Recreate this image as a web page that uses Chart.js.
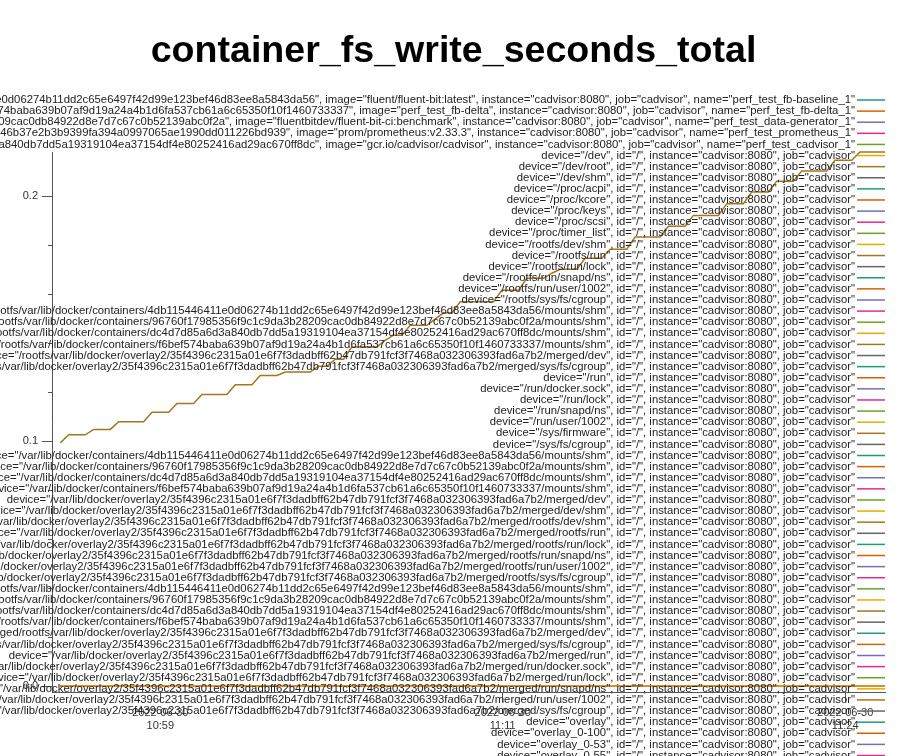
<!DOCTYPE html>
<html><head><meta charset="utf-8">
<script src="https://cdn.jsdelivr.net/npm/chart.js@4.4.1/dist/chart.umd.min.js"></script>
<style>html,body{margin:0;padding:0;background:#fff;overflow:hidden}canvas{display:block}</style>
</head><body>
<canvas id="c" width="907" height="756"></canvas>
<script>
const chartTitle = 'container_fs_write_seconds_total';
const dateLabel = '2022-06-30';

// sample timestamps (HH:MM:SS on 2022-06-30)
const times = [
 '10:55:24','10:55:42','10:56:00','10:56:18','10:56:36','10:56:54','10:57:12','10:57:30','10:57:48','10:58:06',
 '10:58:24','10:58:42','10:59:00','10:59:18','10:59:36','10:59:54','11:00:12','11:00:30','11:00:48','11:01:06',
 '11:01:24','11:01:42','11:02:00','11:02:18','11:02:36','11:02:54','11:03:12','11:03:30','11:03:48','11:04:06',
 '11:04:24','11:04:42','11:05:00','11:05:18','11:05:36','11:05:54','11:06:12','11:06:30','11:06:48','11:07:06',
 '11:07:24','11:07:42','11:08:00','11:08:18','11:08:36','11:08:54','11:09:12','11:09:30','11:09:48','11:10:06',
 '11:10:24','11:10:42','11:11:00','11:11:18','11:11:36','11:11:54','11:12:12','11:12:30','11:12:48','11:13:06',
 '11:13:24','11:13:42','11:14:00','11:14:18','11:14:36','11:14:54','11:15:12','11:15:30','11:15:48','11:16:06',
 '11:16:24','11:16:42','11:17:00','11:17:18','11:17:36','11:17:54','11:18:12','11:18:30','11:18:48','11:19:06',
 '11:19:24','11:19:42','11:20:00','11:20:18','11:20:36','11:20:54','11:21:12','11:21:30','11:21:48','11:22:06',
 '11:22:24','11:22:42','11:23:00','11:23:18','11:23:36','11:23:54','11:24:12','11:24:30','11:24:48','11:25:06'
];
const xRange = ['10:55:06', '11:25:06'];
const xTickTimes = ['10:59:00', '11:11:20', '11:23:40'];
const xTickLabels = ['10:59', '11:11', '11:24'];

const yRange = [-0.00245, 0.2181];
const yTickValues = [0, 0.02, 0.04, 0.06, 0.08, 0.1, 0.12, 0.14, 0.16, 0.18, 0.2];
const yLabeledTicks = [0, 0.1, 0.2];

// device="/dev/root"
const devRootValues = [
 0.0993,0.1026,0.1026,0.1026,0.1048,0.1048,0.1048,0.1079,0.1079,0.1079,
 0.1079,0.1118,0.1118,0.1118,0.1154,0.1154,0.1154,0.1191,0.1191,0.1191,
 0.1191,0.1230,0.1230,0.1230,0.1268,0.1268,0.1268,0.1282,0.1282,0.1282,
 0.1282,0.1306,0.1306,0.1335,0.1335,0.1385,0.1385,0.1385,0.1385,0.1412,
 0.1433,0.1433,0.1473,0.1473,0.1473,0.1498,0.1524,0.1524,0.1569,0.1569,
 0.1569,0.1569,0.1569,0.1616,0.1616,0.1616,0.1665,0.1665,0.1665,0.1686,
 0.1702,0.1702,0.1702,0.1747,0.1747,0.1747,0.1784,0.1784,0.1784,0.1834,
 0.1834,0.1834,0.1834,0.1878,0.1878,0.1878,0.1922,0.1922,0.1922,0.1922,
 0.1970,0.1970,0.1970,0.2018,0.2018,0.2018,0.2062,0.2062,0.2062,0.2103,
 0.2103,0.2103,0.2103,0.2147,0.2147,0.2147,0.2181,0.2181,0.2181,0.2181
];
// every other series stays at zero
const zeroValues = [
 0,0,0,0,0,0,0,0,0,0, 0,0,0,0,0,0,0,0,0,0, 0,0,0,0,0,0,0,0,0,0, 0,0,0,0,0,0,0,0,0,0,
 0,0,0,0,0,0,0,0,0,0, 0,0,0,0,0,0,0,0,0,0, 0,0,0,0,0,0,0,0,0,0, 0,0,0,0,0,0,0,0,0,0,
 0,0,0,0,0,0,0,0,0,0, 0,0,0,0,0,0,0,0,0,0
];

const containerLabels = [
 'id="/docker/4db115446411e0d06274b11dd2c65e6497f42d99e123bef46d83ee8a5843da56", image="fluent/fluent-bit:latest", instance="cadvisor:8080", job="cadvisor", name="perf_test_fb-baseline_1"',
 'id="/docker/f6bef574baba639b07af9d19a24a4b1d6fa537cb61a6c65350f10f1460733337", image="perf_test_fb-delta", instance="cadvisor:8080", job="cadvisor", name="perf_test_fb-delta_1"',
 'id="/docker/96760f17985356f9c1c9da3b28209cac0db84922d8e7d7c67c0b52139abc0f2a", image="fluentbitdev/fluent-bit-ci:benchmark", instance="cadvisor:8080", job="cadvisor", name="perf_test_data-generator_1"',
 'id="/docker/5e0b9c1fa8d2437e6746b37e2b3b9399fa394a0997065ae1990dd011226bd939", image="prom/prometheus:v2.33.3", instance="cadvisor:8080", job="cadvisor", name="perf_test_prometheus_1"',
 'id="/docker/dc4d7d85a6d3a840db7dd5a19319104ea37154df4e80252416ad29ac670ff8dc", image="gcr.io/cadvisor/cadvisor", instance="cadvisor:8080", job="cadvisor", name="perf_test_cadvisor_1"'
];
const OV = '/var/lib/docker/overlay2/35f4396c2315a01e6f7f3dadbff62b47db791fcf3f7468a032306393fad6a7b2/merged';
const C1 = '/var/lib/docker/containers/4db115446411e0d06274b11dd2c65e6497f42d99e123bef46d83ee8a5843da56/mounts/shm';
const C2 = '/var/lib/docker/containers/96760f17985356f9c1c9da3b28209cac0db84922d8e7d7c67c0b52139abc0f2a/mounts/shm';
const C3 = '/var/lib/docker/containers/dc4d7d85a6d3a840db7dd5a19319104ea37154df4e80252416ad29ac670ff8dc/mounts/shm';
const C4 = '/var/lib/docker/containers/f6bef574baba639b07af9d19a24a4b1d6fa537cb61a6c65350f10f1460733337/mounts/shm';
const devices = [
 '/dev', '/dev/root', '/dev/shm', '/proc/acpi', '/proc/kcore', '/proc/keys', '/proc/scsi', '/proc/timer_list',
 '/rootfs/dev/shm', '/rootfs/run', '/rootfs/run/lock', '/rootfs/run/snapd/ns', '/rootfs/run/user/1002', '/rootfs/sys/fs/cgroup',
 '/rootfs' + C1, '/rootfs' + C2, '/rootfs' + C3, '/rootfs' + C4,
 '/rootfs' + OV + '/dev', '/rootfs' + OV + '/sys/fs/cgroup',
 '/run', '/run/docker.sock', '/run/lock', '/run/snapd/ns', '/run/user/1002', '/sys/firmware', '/sys/fs/cgroup',
 C1, C2, C3, C4,
 OV + '/dev', OV + '/dev/shm', OV + '/rootfs/dev/shm', OV + '/rootfs/run', OV + '/rootfs/run/lock',
 OV + '/rootfs/run/snapd/ns', OV + '/rootfs/run/user/1002', OV + '/rootfs/sys/fs/cgroup',
 OV + '/rootfs' + C1, OV + '/rootfs' + C2, OV + '/rootfs' + C3, OV + '/rootfs' + C4,
 OV + '/rootfs' + OV + '/dev', OV + '/rootfs' + OV + '/sys/fs/cgroup',
 OV + '/run', OV + '/run/docker.sock', OV + '/run/lock', OV + '/run/snapd/ns', OV + '/run/user/1002', OV + '/sys/fs/cgroup',
 'overlay', 'overlay_0-100', 'overlay_0-53', 'overlay_0-55'
];
const deviceLabels = devices.map(d => `device="${d}", id="/", instance="cadvisor:8080", job="cadvisor"`);
const seriesLabels = containerLabels.concat(deviceLabels);
const activeSeries = 'device="/dev/root", id="/", instance="cadvisor:8080", job="cadvisor"';
const topZeroSeries = 'device="' + OV + '/run/snapd/ns", id="/", instance="cadvisor:8080", job="cadvisor"';

const palette = ['#1b9e77', '#d95f02', '#7570b3', '#e7298a', '#66a61e', '#e6ab02', '#a6761d', '#666666'];
const FONT = '"Liberation Sans", Arial, Helvetica, sans-serif';

const toSec = s => { const p = s.split(':').map(Number); return p[0] * 3600 + p[1] * 60 + p[2]; };

const datasets = seriesLabels.map((label, i) => {
  const vals = label === activeSeries ? devRootValues : zeroValues;
  return {
    label,
    data: times.map((t, j) => ({ x: toSec(t), y: vals[j] })),
    borderColor: palette[i % palette.length],
    backgroundColor: palette[i % palette.length],
    borderWidth: 1.5,
    pointRadius: 0,
    fill: false,
    tension: 0,
    clip: 3,
    order: label === activeSeries ? 0 : (label === topZeroSeries ? 1 : 2 + seriesLabels.length - i)
  };
});

const pageTitle = {
  id: 'pageTitle',
  afterDraw(chart) {
    const ctx = chart.ctx;
    ctx.save();
    ctx.font = 'bold 37.6px ' + FONT;
    ctx.fillStyle = '#000';
    ctx.textAlign = 'center';
    ctx.textBaseline = 'middle';
    ctx.fillText(chartTitle, chart.width / 2, 52);
    ctx.restore();
  }
};

const minorTicks = {
  id: 'minorTicks',
  afterDraw(chart) {
    const ys = chart.scales.y, ctx = chart.ctx;
    ctx.save();
    ctx.strokeStyle = '#555';
    ctx.lineWidth = 1;
    yTickValues.forEach(v => {
      if (yLabeledTicks.includes(v)) return;
      const py = Math.round(ys.getPixelForValue(v)) + 0.5;
      ctx.beginPath(); ctx.moveTo(ys.right - 4, py); ctx.lineTo(ys.right, py); ctx.stroke();
    });
    ctx.restore();
  }
};

const sideLegend = {
  id: 'sideLegend',
  afterDraw(chart) {
    const ctx = chart.ctx;
    ctx.save();
    ctx.font = '11.33px ' + FONT;
    ctx.textAlign = 'right';
    ctx.textBaseline = 'middle';
    chart.data.datasets.forEach((ds, i) => {
      const y = 100 + i * 11.11;
      ctx.fillStyle = '#222';
      ctx.fillText(ds.label, 855, y);
      ctx.strokeStyle = ds.borderColor;
      ctx.lineWidth = 1.5;
      ctx.beginPath(); ctx.moveTo(857, y); ctx.lineTo(885, y); ctx.stroke();
    });
    ctx.restore();
  }
};

new Chart(document.getElementById('c'), {
  type: 'line',
  data: { datasets },
  options: {
    responsive: false,
    animation: false,
    devicePixelRatio: 1,
    layout: { padding: { left: 0, right: 22, top: 152, bottom: 0 } },
    plugins: {
      legend: { display: false },
      tooltip: { enabled: false },
      title: { display: false }
    },
    scales: {
      x: {
        type: 'linear',
        min: toSec(xRange[0]),
        max: toSec(xRange[1]),
        afterBuildTicks: s => { s.ticks = xTickTimes.map(t => ({ value: toSec(t) })); },
        afterFit: s => { s.height = 64; },
        grid: { display: true, drawOnChartArea: false, drawTicks: true, tickLength: 10, tickColor: '#555' },
        border: { display: true, color: '#555', width: 1 },
        ticks: {
          autoSkip: false, maxRotation: 0, padding: 4, color: '#333',
          font: { family: FONT, size: 11, lineHeight: 1.2 },
          callback: (v, i) => [dateLabel, xTickLabels[i]]
        }
      },
      y: {
        type: 'linear',
        min: yRange[0],
        max: yRange[1],
        afterBuildTicks: s => { s.ticks = yTickValues.map(v => ({ value: v })); },
        afterFit: s => { s.width = 52; },
        grid: {
          display: true, drawOnChartArea: false, drawTicks: true, tickLength: 10,
          tickColor: c => (c.tick && yLabeledTicks.some(v => Math.abs(v - c.tick.value) < 1e-9)) ? '#555' : 'rgba(0,0,0,0)'
        },
        border: { display: true, color: '#555', width: 1 },
        ticks: {
          autoSkip: false, padding: 4, color: '#333',
          font: { family: FONT, size: 11 },
          callback: v => yLabeledTicks.some(t => Math.abs(t - v) < 1e-9) ? v.toFixed(1) : ''
        }
      }
    }
  },
  plugins: [pageTitle, minorTicks, sideLegend]
});
</script>
</body></html>
